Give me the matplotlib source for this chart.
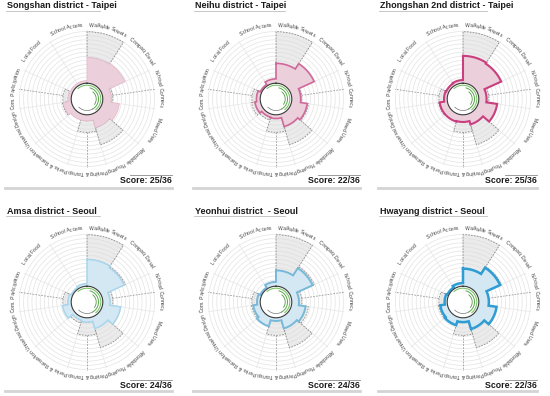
import numpy as np
import matplotlib
matplotlib.use("Agg")
import matplotlib.pyplot as plt
from matplotlib.lines import Line2D
from matplotlib.textpath import TextToPath
from matplotlib.font_manager import FontProperties

# ---------------- data ----------------
categories = ["Walkable Streets", "Compact Devel.", "N-hood Connect.", "Mixed Uses",
              "Affordable Housing", "Parking & Transp.", "Parks & Recreation",
              "Universal Design", "Com. Participation", "Local Food", "School Access"]

titles = ["Songshan district - Taipei", "Neihu district - Taipei",
          "Zhongshan 2nd district - Taipei", "Amsa district - Seoul",
          "Yeonhui district  - Seoul", "Hwayang district - Seoul"]
scores = ["Score: 25/36", "Score: 22/36", "Score: 25/36",
          "Score: 24/36", "Score: 24/36", "Score: 22/36"]

songshan = [7.2, 7.3, 4.2, 5.7, 5.2, 3.8, 3.8, 4.2, 3.3, 3.2, 3.2]
neihu = [6.2, 7.3, 4.3, 5.5, 5.0, 3.4, 3.3, 3.7, 3.4, 3.0, 3.5]
zhongshan = [7.5, 7.3, 4.1, 6.0, 4.6, 4.0, 4.1, 4.1, 3.3, 3.2, 3.3]
amsa = [7.4, 7.1, 4.0, 5.9, 4.8, 3.5, 3.3, 4.3, 3.3, 3.0, 3.2]
yeonhui = [5.5, 7.0, 4.0, 5.2, 4.8, 3.3, 4.4, 4.0, 3.3, 3.0, 3.5]
hwayang = [5.8, 7.1, 4.5, 5.9, 4.9, 3.5, 4.2, 4.0, 3.2, 3.0, 3.3]
benchmark = [11.7, 7.3, 4.5, 5.7, 8.3, 5.8, 3.8, 4.3, 4.2, 3.0, 3.0]
dashed_spokes = ["N-hood Connect.", "Parking & Transp.", "Com. Participation"]

panel_values = [songshan, neihu, zhongshan, amsa, yeonhui, hwayang]
fill_colors = ["#ebcfdb", "#ebcfdb", "#ebcfdb", "#d3e8f2", "#d3e8f2", "#d3e8f2"]
edge_colors = ["#e6bccd", "#d0699a", "#c93f7f", "#a8d6ec", "#78b8d9", "#2f9dd3"]
edge_widths = [0.6, 1.2, 1.5, 1.1, 1.4, 1.8]

# ring decoration (radius, start deg, end deg, colour, width)
ring_arcs = [(2.4, -40, 140, "#7cc36a", 0.8),
             (2.0, 15, 150, "#5aa84b", 0.7),
             (1.6, 40, 125, "#4d9a42", 0.6),
             (2.0, 150, 225, "#777777", 0.5)]
ring_r = 2.75
r_max = 12.0

# ---------------- layout ----------------
W, H = 550, 396
fig = plt.figure(figsize=(W / 100, H / 100), dpi=100)
fig.patch.set_facecolor("white")

def fx(px):
    return px / W

def fy(py):
    return 1 - py / H

narrow = ["Liberation Sans Narrow", "Liberation Sans", "DejaVu Sans"]

col_left = [7, 195, 380]
col_right = [172, 360, 537]
col_cx = [87, 276, 463]
title_line_end = [100, 285, 487]
score_line_start = [130, 318, 505]
row_title_y = [6, 211]
row_uline_y = [11, 216]
row_cy = [99, 302]
row_score_y = [180, 385]
row_sline_y = [175, 380]
row_bline_y = [188, 391]
R_px = 69

n = len(categories)
width = 2 * np.pi / n
edges = np.arange(n + 1) * width
centers = edges[:-1] + width / 2

label_fp = FontProperties(family=narrow, size=3.6)
ttp = TextToPath()

def text_w(s):
    if not s:
        return 0.0
    w, h, d = ttp.get_text_width_height_descent(s.replace(" ", "\u00a0"), label_fp, ismath=False)
    return w

def curved_label(ax, text, theta_c, r_lab):
    r_pt = r_lab / r_max * R_px * 72 / 100
    total = text_w(text)
    for i, ch in enumerate(text):
        a = text_w(text[:i])
        b = text_w(text[:i + 1])
        pos = (a + b) / 2 - total / 2
        th = theta_c + pos / r_pt
        ax.text(th, r_lab, ch, rotation=-np.degrees(th), rotation_mode="anchor",
                ha="center", va="baseline", fontproperties=label_fp,
                color="#3a3a3a", clip_on=False)

for k in range(6):
    row, col = divmod(k, 3)
    cx, cy = col_cx[col], row_cy[row]
    ax = fig.add_axes([fx(cx - R_px), fy(cy + R_px), 2 * R_px / W, 2 * R_px / H],
                      projection="polar")
    ax.set_theta_zero_location("N")
    ax.set_theta_direction(-1)
    ax.set_ylim(0, r_max)
    ax.axis("off")

    vals = panel_values[k]
    tt = np.linspace(0, 2 * np.pi, 361)

    # grid circles and spokes
    for rr in np.arange(ring_r + 0.35, r_max + 0.01, 0.72):
        ax.plot(tt, np.full_like(tt, rr), color="#e3e3e3", lw=0.5, zorder=1)
    for e in edges[:-1]:
        ax.plot([e, e], [ring_r, r_max], color="#e6e6e6", lw=0.5, zorder=1)

    # benchmark (grey dashed sectors)
    for i in range(n):
        if benchmark[i] > vals[i]:
            ax.bar(centers[i], benchmark[i] - vals[i], bottom=vals[i], width=width,
                   color=(0.86, 0.86, 0.86, 0.55), edgecolor="#8c8c8c", linewidth=0.6,
                   linestyle=(0, (2, 1.5)), zorder=2)
    for i, c in enumerate(categories):
        if c in dashed_spokes:
            start = max(benchmark[i], vals[i])
            ax.plot([centers[i], centers[i]], [start, r_max], color="#9a9a9a",
                    lw=0.6, ls=(0, (2, 1.5)), zorder=2)

    # score outline
    th_o, r_o = [], []
    for i, v in enumerate(vals):
        t = np.linspace(edges[i], edges[i + 1], 40)
        th_o.extend(t)
        r_o.extend([v] * len(t))
    th_o.append(th_o[0])
    r_o.append(r_o[0])
    ax.fill(th_o, r_o, facecolor=fill_colors[k], edgecolor="none", zorder=3)
    ax.plot(th_o, r_o, color=edge_colors[k], lw=edge_widths[k], zorder=4,
            solid_joinstyle="miter")

    # inner disk, ring and arcs
    ax.fill(tt, np.full_like(tt, ring_r), facecolor="white", edgecolor="none", zorder=5)
    ax.plot(tt, np.full_like(tt, ring_r), color="#3a3a3a", lw=0.8, zorder=6)
    for (rr, a0, a1, colr, lw) in ring_arcs:
        ta = np.radians(np.linspace(a0, a1, 100))
        ax.plot(ta, np.full_like(ta, rr), color=colr, lw=lw, zorder=6)

    # labels
    for i, c in enumerate(categories):
        curved_label(ax, c, centers[i], 12.6)

    # texts and rules
    fig.text(fx(col_left[col]), fy(row_title_y[row]), titles[k], family=narrow,
             fontweight="bold", fontsize=6.5, color="#1a1a1a", ha="left", va="center")
    fig.add_artist(Line2D([fx(col_left[col] - 1), fx(title_line_end[col])],
                          [fy(row_uline_y[row])] * 2, color="#bdbdbd", lw=0.6))
    fig.text(fx(col_right[col]), fy(row_score_y[row]), scores[k], family=narrow,
             fontweight="bold", fontsize=6.3, color="#1a1a1a", ha="right", va="center")
    fig.add_artist(Line2D([fx(score_line_start[col]), fx(col_right[col])],
                          [fy(row_sline_y[row])] * 2, color="#8a8a8a", lw=0.6))
    fig.add_artist(Line2D([fx(col_left[col] - 2), fx(col_right[col])],
                          [fy(row_bline_y[row])] * 2, color="#d4d4d4", lw=2.0))

fig.savefig("out.png", dpi=100, facecolor="white")
